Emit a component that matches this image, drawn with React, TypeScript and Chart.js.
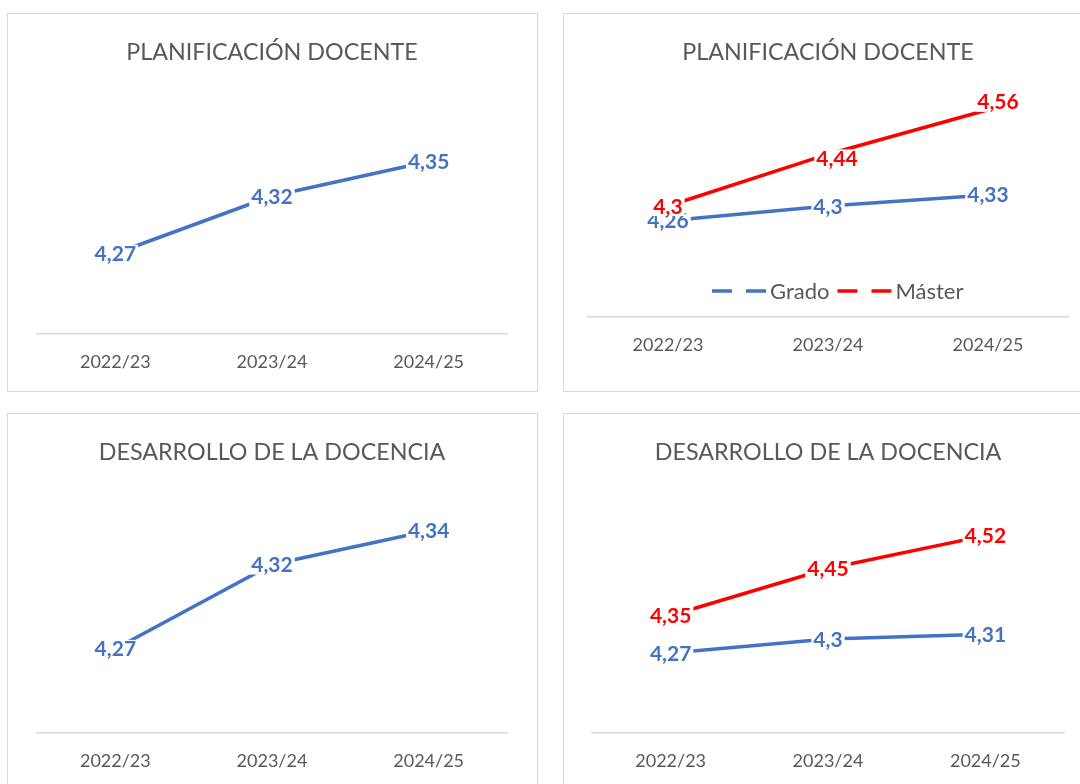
import React, { useEffect, useRef } from 'react';
import { Chart, registerables } from 'chart.js';

Chart.register(...registerables);

// ---- data ----
const categories = ['2022/23', '2023/24', '2024/25'];
const planTotal = [4.27, 4.32, 4.35];
const planGrado = [4.26, 4.3, 4.33];
const planMaster = [4.3, 4.44, 4.56];
const desTotal = [4.27, 4.32, 4.34];
const desGrado = [4.27, 4.3, 4.31];
const desMaster = [4.35, 4.45, 4.52];
const seriesNames = ['Grado', 'Máster'];
const titlePlan = 'PLANIFICACIÓN DOCENTE';
const titleDes = 'DESARROLLO DE LA DOCENCIA';

// ---- style ----
const BLUE = '#4472C4';
const RED = '#FF0000';
const GRAY = '#595959';
const LIGHT = '#D9D9D9';
const FONT = 'Lato, "Noto Sans", sans-serif';
const CW = 529;
const CH = 377;
const TITLE_SIZE = 23.3;
const TICK_SIZE = 18;
const LABEL_SIZE = 21;
const LEGEND_SIZE = 22;

const fmt = (v: number) => String(v).replace('.', ',');

const dataLabelsPlugin = {
  id: 'dataLabels',
  afterDatasetsDraw(chart: any, _args: any, opts: any) {
    const { ctx } = chart;
    const size = (opts && opts.size) || LABEL_SIZE;
    chart.data.datasets.forEach((ds: any, di: number) => {
      const meta = chart.getDatasetMeta(di);
      meta.data.forEach((pt: any, i: number) => {
        const off = (ds.labelOffsets && ds.labelOffsets[i]) || [0, 0];
        const x = pt.x + off[0];
        const y = pt.y + off[1];
        const text = fmt(ds.data[i]);
        ctx.save();
        ctx.font = `bold ${size}px ${FONT}`;
        const w = ctx.measureText(text).width;
        ctx.fillStyle = '#ffffff';
        ctx.fillRect(x - w / 2 - 2, y - size * 0.42, w + 4, size * 0.9);
        ctx.fillStyle = ds.borderColor;
        ctx.textAlign = 'center';
        ctx.textBaseline = 'alphabetic';
        ctx.fillText(text, x, y + size * 0.36);
        ctx.restore();
      });
    });
  },
};

const dashLegendPlugin = {
  id: 'dashLegend',
  afterDraw(chart: any, _args: any, opts: any) {
    if (!opts || !opts.show) return;
    const ctx = chart.ctx;
    let x = opts.x;
    const y = opts.y;
    ctx.save();
    ctx.font = `${LEGEND_SIZE}px ${FONT}`;
    ctx.textBaseline = 'alphabetic';
    chart.data.datasets.forEach((ds: any) => {
      ctx.strokeStyle = ds.borderColor;
      ctx.lineWidth = 3.5;
      ctx.lineCap = 'butt';
      ctx.setLineDash([20, 14]);
      ctx.beginPath();
      ctx.moveTo(x, y);
      ctx.lineTo(x + 54, y);
      ctx.stroke();
      ctx.setLineDash([]);
      x += 58;
      ctx.fillStyle = GRAY;
      ctx.textAlign = 'left';
      ctx.fillText(ds.label, x, y + LEGEND_SIZE * 0.36);
      x += ctx.measureText(ds.label).width + 8;
    });
    ctx.restore();
  },
};

type Series = { label: string; data: number[]; color: string; offsets?: number[][] };
type Area = { l: number; r: number; t: number; b: number };

function Panel(props: {
  left: number;
  top: number;
  title: string;
  series: Series[];
  yMin: number;
  yMax: number;
  area: Area;
  legend?: { x: number; y: number };
}) {
  const ref = useRef<HTMLCanvasElement | null>(null);
  useEffect(() => {
    if (!ref.current) return;
    const { area } = props;
    const tLH = TITLE_SIZE * 1.2;
    const chart = new Chart(ref.current, {
      type: 'line',
      data: {
        labels: categories,
        datasets: props.series.map((s) => ({
          label: s.label,
          data: s.data,
          borderColor: s.color,
          backgroundColor: s.color,
          borderWidth: 3.5,
          pointRadius: 0,
          fill: false,
          tension: 0,
          labelOffsets: s.offsets,
        })) as any,
      },
      options: {
        responsive: false,
        animation: false,
        devicePixelRatio: 1,
        layout: { padding: { left: area.l, right: CW - area.r, top: 0, bottom: 0 } },
        scales: {
          x: {
            type: 'category',
            offset: true,
            grid: { display: false, drawTicks: false },
            border: { display: true, color: LIGHT, width: 1.5 },
            ticks: {
              color: GRAY,
              font: { family: FONT, size: TICK_SIZE },
              padding: 28 - TICK_SIZE * 0.6,
              maxRotation: 0,
            },
            afterFit: (s: any) => {
              s.height = CH - area.b;
            },
          },
          y: { display: false, min: props.yMin, max: props.yMax },
        },
        plugins: {
          legend: { display: false },
          tooltip: { enabled: false },
          title: {
            display: true,
            text: props.title,
            color: GRAY,
            font: { family: FONT, size: TITLE_SIZE, weight: 'normal' },
            padding: { top: 38 - tLH / 2, bottom: area.t - 38 - tLH / 2 },
          },
          dataLabels: { size: LABEL_SIZE },
          dashLegend: props.legend ? { show: true, x: props.legend.x, y: props.legend.y } : { show: false },
        } as any,
      },
      plugins: [dataLabelsPlugin, dashLegendPlugin],
    } as any);
    return () => chart.destroy();
  }, []);
  return (
    <div
      style={{
        position: 'absolute',
        left: props.left,
        top: props.top,
        border: `1px solid ${LIGHT}`,
        width: CW,
        height: CH,
        background: '#fff',
      }}
    >
      <canvas ref={ref} width={CW} height={CH} style={{ display: 'block' }} />
    </div>
  );
}

export default function App() {
  return (
    <div
      style={{
        position: 'absolute',
        left: 0,
        top: 0,
        width: 1080,
        height: 784,
        overflow: 'hidden',
        background: '#fff',
      }}
    >
      <Panel
        left={7}
        top={13}
        title={titlePlan}
        series={[{ label: 'Total', data: planTotal, color: BLUE }]}
        yMin={4.2}
        yMax={4.4}
        area={{ l: 29, r: 499, t: 90, b: 320 }}
      />
      <Panel
        left={563}
        top={13}
        title={titlePlan}
        series={[
          { label: seriesNames[0], data: planGrado, color: BLUE },
          { label: seriesNames[1], data: planMaster, color: RED, offsets: [[0, 0], [9, 4], [10, -8]] },
        ]}
        yMin={4.0}
        yMax={4.6}
        area={{ l: 24, r: 504, t: 81, b: 303 }}
        legend={{ x: 148, y: 277 }}
      />
      <Panel
        left={7}
        top={413}
        title={titleDes}
        series={[{ label: 'Total', data: desTotal, color: BLUE }]}
        yMin={4.22}
        yMax={4.36}
        area={{ l: 29, r: 499, t: 83, b: 319 }}
      />
      <Panel
        left={563}
        top={413}
        title={titleDes}
        series={[
          { label: seriesNames[0], data: desGrado, color: BLUE },
          { label: seriesNames[1], data: desMaster, color: RED },
        ]}
        yMin={4.1}
        yMax={4.6}
        area={{ l: 28, r: 500, t: 84, b: 319 }}
      />
    </div>
  );
}
